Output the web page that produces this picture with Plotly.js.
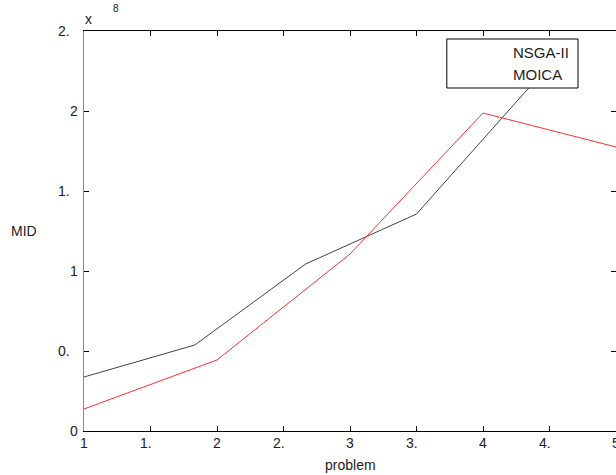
<!DOCTYPE html>
<html><head><meta charset="utf-8">
<script src="https://cdn.plot.ly/plotly-3.0.1.min.js"></script>
<style>html,body{margin:0;padding:0;background:#fff}#chart{width:616px;height:475px}</style>
</head><body><div id="chart"></div>
<script>
// Data
const nsgaX = [1, 1.833, 2.667, 3.5, 4.5];
const nsgaY = [0.3375e8, 0.5375e8, 1.044e8, 1.356e8, 2.29e8];
const moicaX = [1, 2, 3, 4, 5];
const moicaY = [0.1375e8, 0.444e8, 1.106e8, 1.9875e8, 1.775e8];
const xTickVals = [1, 1.5, 2, 2.5, 3, 3.5, 4, 4.5, 5];
const xTickText = ['1', '1.', '2', '2.', '3', '3.', '4', '4.', '5'];
const yTickVals = [0, 0.5e8, 1e8, 1.5e8, 2e8, 2.5e8];
const yTickText = ['0', '0.', '1', '1.', '2', '2.'];
const legendNames = ['NSGA-II', 'MOICA'];

const F = 'Liberation Sans, Arial, sans-serif';
const annotations = [];
xTickVals.forEach((v, i) => {
  const t = xTickText[i];
  annotations.push({xref:'x', yref:'paper', x:v, y:0, yanchor:'top', xanchor:'center',
    text:t, showarrow:false, yshift:-2, xshift: t.endsWith('.') ? -5 : 0,
    font:{family:F, size:14, color:'#222'}});
});
yTickVals.forEach((v, i) => {
  const t = yTickText[i];
  annotations.push({xref:'paper', yref:'y', x:0, y:v, xanchor:'right', yanchor:'middle',
    text:t, showarrow:false, xshift: t.endsWith('.') ? -12 : -4,
    font:{family:F, size:14, color:'#222'}});
});
annotations.push({xref:'paper', yref:'paper', x:0, y:1, xanchor:'left', yanchor:'bottom',
  text:'x', showarrow:false, xshift:-1, yshift:2, font:{family:F, size:14, color:'#222'}});
annotations.push({xref:'paper', yref:'paper', x:0, y:1, xanchor:'left', yanchor:'bottom',
  text:'8', showarrow:false, xshift:27, yshift:15, font:{family:F, size:10, color:'#222'}});
annotations.push({xref:'paper', yref:'paper', x:-0.141, y:0.5, xanchor:'left', yanchor:'middle',
  text:'MID', showarrow:false, yshift:0, font:{family:F, size:14, color:'#222'}});
annotations.push({xref:'paper', yref:'paper', x:0.5, y:0, xanchor:'center', yanchor:'top',
  text:'problem', showarrow:false, yshift:-24, font:{family:F, size:14, color:'#222'}});
annotations.push({xref:'paper', yref:'paper', x:0.803, y:0.9475, xanchor:'left', yanchor:'middle',
  text:legendNames[0], showarrow:false, font:{family:F, size:15, color:'#222'}});
annotations.push({xref:'paper', yref:'paper', x:0.803, y:0.8925, xanchor:'left', yanchor:'middle',
  text:legendNames[1], showarrow:false, font:{family:F, size:15, color:'#222'}});

const traces = [
  {x:nsgaX, y:nsgaY, type:'scatter', mode:'lines', name:legendNames[0],
   line:{color:'#444', width:1}},
  {x:moicaX, y:moicaY, type:'scatter', mode:'lines', name:legendNames[1],
   line:{color:'#ff3030', width:1}}
];

const layout = {
  width:616, height:475,
  margin:{l:84, r:0, t:31, b:44, pad:0},
  paper_bgcolor:'#fff', plot_bgcolor:'#fff',
  showlegend:false,
  xaxis:{range:[1,5], tickvals:xTickVals, showticklabels:false, ticks:'inside', ticklen:5,
    tickcolor:'#000', showline:true, linecolor:'#000', linewidth:1, mirror:'ticks',
    showgrid:false, zeroline:false},
  yaxis:{range:[0,2.5e8], tickvals:yTickVals, showticklabels:false, ticks:'inside', ticklen:5,
    tickcolor:'#000', showline:true, linecolor:'#888', linewidth:1, mirror:'ticks',
    showgrid:false, zeroline:false},
  shapes:[{type:'rect', xref:'paper', yref:'paper', x0:0.682, x1:0.9286, y0:0.8575, y1:0.98,
    fillcolor:'#fff', line:{color:'#000', width:1}, layer:'above'}],
  annotations: annotations
};
Plotly.newPlot('chart', traces, layout, {displayModeBar:false, staticPlot:true});
</script></body></html>
